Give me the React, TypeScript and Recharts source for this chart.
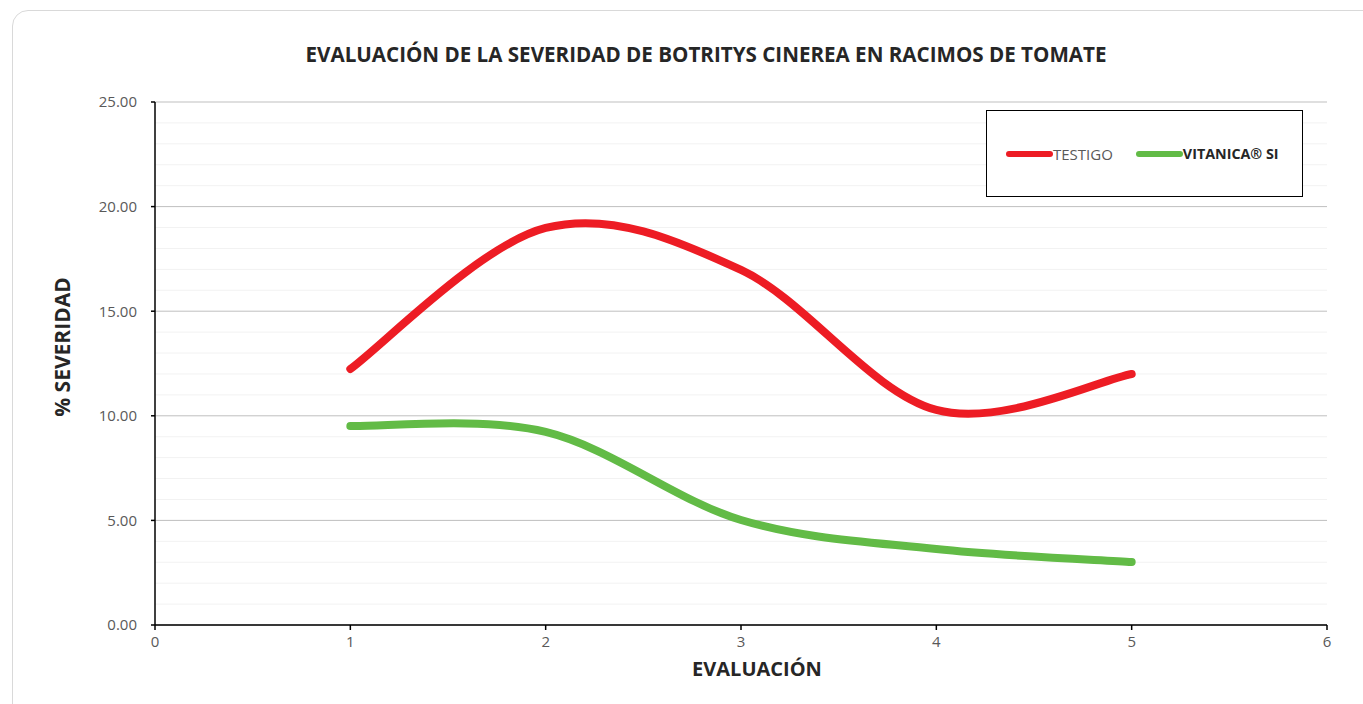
import { LineChart, Line, XAxis, YAxis, CartesianGrid } from "recharts";

const evaluaciones = [1, 2, 3, 4, 5];
const testigo = [12.24, 18.98, 16.97, 10.28, 12.0];
const vitanica = [9.51, 9.23, 5.02, 3.63, 3.01];

const xTicks = [0, 1, 2, 3, 4, 5, 6];
const yTicks = [0, 5, 10, 15, 20, 25];
const minorGrid = [1, 2, 3, 4, 6, 7, 8, 9, 11, 12, 13, 14, 16, 17, 18, 19, 21, 22, 23, 24];

const RED = "#ED1C24";
const GREEN = "#62BB46";
const FONT = "'Open Sans', 'Noto Sans', sans-serif";

const rows = evaluaciones.map((ev, i) => ({ ev, testigo: testigo[i], vitanica: vitanica[i] }));

// excel-like smoothing (catmull-rom as bezier)
const excelSmooth = (context: any) => {
    let pts: [number, number][] = [];
    return {
        areaStart() {},
        areaEnd() {},
        lineStart() { pts = []; },
        point(x: number, y: number) { pts.push([+x, +y]); },
        lineEnd() {
            if (!pts.length) return;
            context.moveTo(pts[0][0], pts[0][1]);
            for (let i = 0; i < pts.length - 1; i++) {
                const p0 = pts[Math.max(i - 1, 0)];
                const p1 = pts[i];
                const p2 = pts[i + 1];
                const p3 = pts[Math.min(i + 2, pts.length - 1)];
                context.bezierCurveTo(
                    p1[0] + (p2[0] - p0[0]) / 6, p1[1] + (p2[1] - p0[1]) / 6,
                    p2[0] - (p3[0] - p1[0]) / 6, p2[1] - (p3[1] - p1[1]) / 6,
                    p2[0], p2[1]
                );
            }
        },
    };
};

const tickStyle = { fill: "#595959", fontSize: 15, fontFamily: FONT };

export default function App() {
    return (
        <div style={{ position: "fixed", inset: 0, overflow: "hidden", background: "#fff" }}>
            <div style={{
                position: "absolute", left: 12, top: 10, width: 1400, height: 760,
                border: "1px solid #d9d9d9", borderRadius: 16,
            }} />
            <div style={{
                position: "absolute", left: 706, top: 54, transform: "translate(-50%, -50%)", whiteSpace: "nowrap",
                fontFamily: FONT, fontWeight: 700, fontSize: 20.6, color: "#262626",
            }}>
                EVALUACIÓN DE LA SEVERIDAD DE BOTRITYS CINEREA EN RACIMOS DE TOMATE
            </div>
            <div style={{
                position: "absolute", left: 62, top: 347, transform: "translate(-50%, -50%) rotate(-90deg)",
                fontFamily: FONT, fontWeight: 700, fontSize: 21, color: "#262626", whiteSpace: "nowrap",
            }}>
                % SEVERIDAD
            </div>
            <div style={{
                position: "absolute", left: 757, top: 668, transform: "translate(-50%, -50%)",
                fontFamily: FONT, fontWeight: 700, fontSize: 20, color: "#262626", whiteSpace: "nowrap",
            }}>
                EVALUACIÓN
            </div>
            <div style={{ position: "absolute", left: 0, top: 0 }}>
                <LineChart width={1363} height={704} data={rows}
                    margin={{ top: 102, right: 36, bottom: 0, left: 0 }}>
                    <CartesianGrid horizontalValues={minorGrid} vertical={false} stroke="#f2f2f2" strokeWidth={1} />
                    <CartesianGrid horizontalValues={yTicks} vertical={false} stroke="#bfbfbf" strokeWidth={1} />
                    <XAxis dataKey="ev" type="number" domain={[0, 6]} ticks={xTicks} height={79}
                        axisLine={{ stroke: "#000", strokeWidth: 1.5 }} tickLine={{ stroke: "#000", strokeWidth: 1.5 }}
                        tickSize={5} tickMargin={6} tick={tickStyle} interval={0} />
                    <YAxis type="number" domain={[0, 25]} ticks={yTicks} width={155}
                        tickFormatter={(v: number) => v.toFixed(2)}
                        axisLine={{ stroke: "#000", strokeWidth: 1.5 }} tickLine={{ stroke: "#000", strokeWidth: 1.5 }}
                        tickSize={4} tickMargin={14} tick={tickStyle} interval={0} />
                    <Line dataKey="testigo" name="TESTIGO" type={excelSmooth as any} stroke={RED} strokeWidth={8}
                        strokeLinecap="round" dot={false} activeDot={false} isAnimationActive={false} />
                    <Line dataKey="vitanica" name="VITANICA® SI" type={excelSmooth as any} stroke={GREEN} strokeWidth={8}
                        strokeLinecap="round" dot={false} activeDot={false} isAnimationActive={false} />
                </LineChart>
            </div>
            <div style={{
                position: "absolute", left: 986, top: 110, width: 317, height: 87,
                border: "1.5px solid #000", background: "#fff", boxSizing: "border-box",
                display: "flex", alignItems: "center", paddingLeft: 19, fontFamily: FONT, fontSize: 15,
            }}>
                <span style={{ width: 47, height: 6, borderRadius: 3, background: RED, display: "inline-block" }} />
                <span style={{ color: "#595959", marginRight: 23 }}>TESTIGO</span>
                <span style={{ width: 47, height: 6, borderRadius: 3, background: GREEN, display: "inline-block" }} />
                <span style={{ color: "#262626", fontWeight: 700, fontSize: 14.3 }}>VITANICA® SI</span>
            </div>
        </div>
    );
}
